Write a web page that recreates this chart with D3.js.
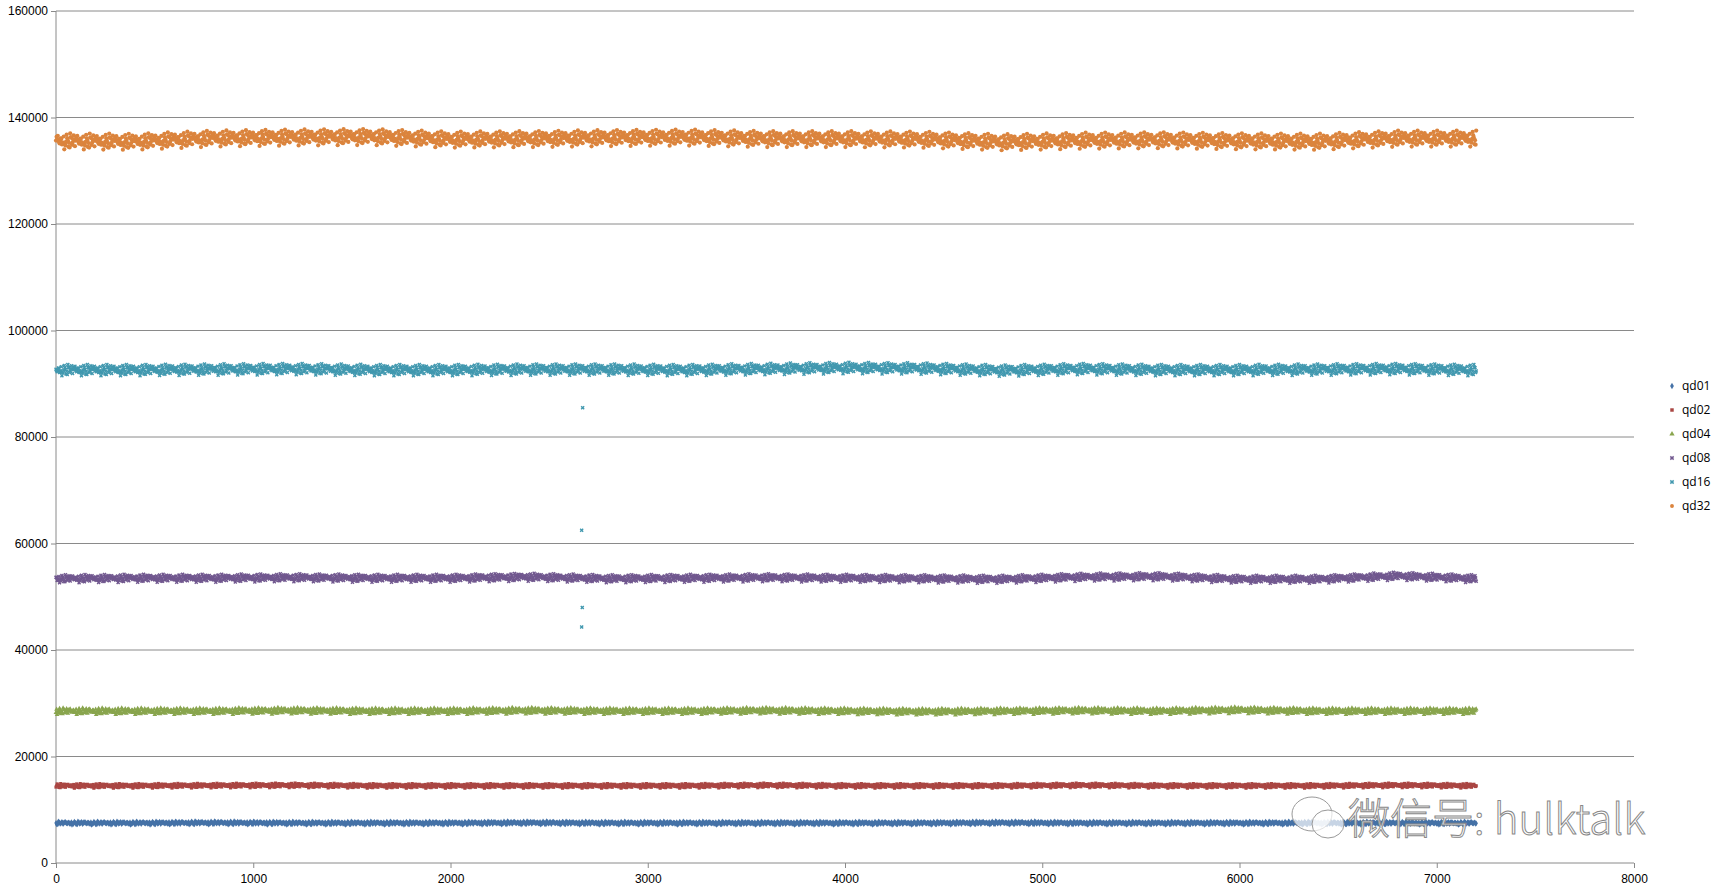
<!DOCTYPE html>
<html><head><meta charset="utf-8">
<script src="https://cdn.jsdelivr.net/npm/d3@7"></script>
<style>body{margin:0;background:#fff}</style>
</head><body>
<svg id="chart" width="1717" height="891"></svg>
<script>
// series names, colours, levels read every 400 samples (0..7200)
var seriesNames = ['qd01', 'qd02', 'qd04', 'qd08', 'qd16', 'qd32'];
var seriesColors = ['#4572A7', '#AA4643', '#89A54E', '#71588F', '#4198AF', '#DB843D'];
var levels_qd01 = [7500, 7500, 7550, 7500, 7500, 7500, 7550, 7500, 7500, 7500, 7500, 7500, 7550, 7500, 7500, 7500, 7500, 7500, 7500];
var levels_qd02 = [14500, 14500, 14550, 14600, 14500, 14500, 14500, 14500, 14500, 14600, 14500, 14500, 14500, 14600, 14500, 14500, 14500, 14600, 14500];
var levels_qd04 = [28500, 28500, 28500, 28600, 28500, 28500, 28600, 28500, 28500, 28600, 28500, 28400, 28500, 28600, 28500, 28700, 28500, 28500, 28500];
var levels_qd08 = [53400, 53500, 53500, 53600, 53500, 53500, 53700, 53400, 53500, 53600, 53500, 53400, 53300, 53700, 53800, 53300, 53300, 53900, 53400];
var levels_qd16 = [92600, 92600, 92700, 92800, 92600, 92600, 92700, 92700, 92600, 92800, 93000, 92900, 92500, 92800, 92600, 92600, 92700, 92800, 92600];
var levels_qd32 = [135600, 135500, 136100, 136300, 136400, 135900, 136000, 136200, 136300, 136000, 136000, 135900, 135400, 135700, 135800, 135600, 135500, 136100, 136100];
var spread = [250, 350, 500, 600, 850, 1200];
// shape of the scatter around the level (fraction of spread), repeating
var jitter = [0.1, -0.4, 0.6, -0.2, 0.9, -0.7, 0.3, -0.9, 0.0, 0.5, -0.5, 0.2, -0.1, 0.8, -0.3, 0.4, -0.6, 0.7, -0.8, 1.0, 0.15, -1.0, 0.35, -0.25, -1.3, 0.05, 0.45, -0.15, 1.2, -0.55, 0.25, -0.35, 0.65];
var outliers_qd16 = [[2670, 85500], [2665, 62500], [2668, 48000], [2665, 44300]];
var xTicks = [0, 1000, 2000, 3000, 4000, 5000, 6000, 7000, 8000];
var yTicks = [0, 20000, 40000, 60000, 80000, 100000, 120000, 140000, 160000];

var allLevels = [levels_qd01, levels_qd02, levels_qd04, levels_qd08, levels_qd16, levels_qd32];
var symbols = [d3.symbolDiamond, d3.symbolSquare, d3.symbolTriangle, d3.symbolCross, d3.symbolCross, d3.symbolCircle];

var svg = d3.select('#chart');
var x = d3.scaleLinear().domain([0, 8000]).range([56, 1634]);
var y = d3.scaleLinear().domain([0, 160000]).range([863, 11]);

// grid
svg.append('g').selectAll('line').data(yTicks.slice(1)).join('line')
	.attr('x1', x(0)).attr('x2', x(8000)).attr('y1', d => y(d)).attr('y2', d => y(d))
	.attr('stroke', '#8a8a8a').attr('stroke-width', 1);

var xAxis = svg.append('g').attr('transform', 'translate(0,' + y(0) + ')')
	.call(d3.axisBottom(x).tickValues(xTicks).tickSize(5).tickPadding(6).tickFormat(d3.format('d')));
var yAxis = svg.append('g').attr('transform', 'translate(' + x(0) + ',0)')
	.call(d3.axisLeft(y).tickValues(yTicks).tickSize(5).tickFormat(d3.format('d')));
[xAxis, yAxis].forEach(function(a){
	a.selectAll('path,line').attr('stroke', '#8a8a8a');
	a.selectAll('text').attr('font-family', 'Liberation Sans, Arial').attr('font-size', 12).attr('fill', '#000');
	a.select('.domain').attr('d', a === xAxis ? 'M' + x(0) + ',0H' + x(8000) : 'M0,' + y(0) + 'V' + y(160000));
});

// points
allLevels.forEach(function(lv, s){
	var pts = [];
	for (var i = 0; i <= 7200; i += 3) {
		var k = Math.min(Math.floor(i / 400), lv.length - 2);
		var t = (i - k * 400) / 400;
		var base = lv[k] * (1 - t) + lv[k + 1] * t;
		pts.push([i, base + jitter[(i / 3 * 7 + s * 5) % jitter.length] * spread[s]]);
	}
	if (s === 4) pts = pts.concat(outliers_qd16);
	var sym = d3.symbol().type(symbols[s]).size(s === 5 ? 14 : 10);
	var g = svg.append('g').attr('fill', seriesColors[s]);
	g.selectAll('path').data(pts).join('path')
		.attr('transform', d => 'translate(' + x(d[0]) + ',' + y(d[1]) + ')' + (s === 3 || s === 4 ? ' rotate(45)' : ''))
		.attr('d', sym);
});

// legend
var leg = svg.append('g').selectAll('g').data(seriesNames).join('g')
	.attr('transform', (d, i) => 'translate(1672,' + (386 + i * 24) + ')');
leg.append('path').attr('d', (d, i) => d3.symbol().type(symbols[i]).size(12)())
	.attr('transform', (d, i) => i === 3 || i === 4 ? 'rotate(45)' : null)
	.attr('fill', (d, i) => seriesColors[i]);
leg.append('text').attr('x', 10).attr('y', 4).text(d => d)
	.attr('font-family', 'Open Sans, Liberation Sans').attr('font-size', 12);

// watermark
var wm = svg.append('g').attr('transform', 'translate(1290,820)');
wm.append('ellipse').attr('cx', 22).attr('cy', -6).attr('rx', 20).attr('ry', 17)
	.attr('fill', 'rgba(255,255,255,0.7)').attr('stroke', '#999');
wm.append('ellipse').attr('cx', 38).attr('cy', 4).attr('rx', 16).attr('ry', 14)
	.attr('fill', 'rgba(255,255,255,0.7)').attr('stroke', '#999');
wm.append('text').attr('x', 58).attr('y', 14).text('微信号: hulktalk')
	.attr('font-family', 'Noto Sans CJK SC, Liberation Sans').attr('font-size', 42).attr('font-weight', 300)
	.attr('fill', 'rgba(255,255,255,0.8)').attr('stroke', '#888').attr('stroke-width', 1);
</script>
</body></html>
